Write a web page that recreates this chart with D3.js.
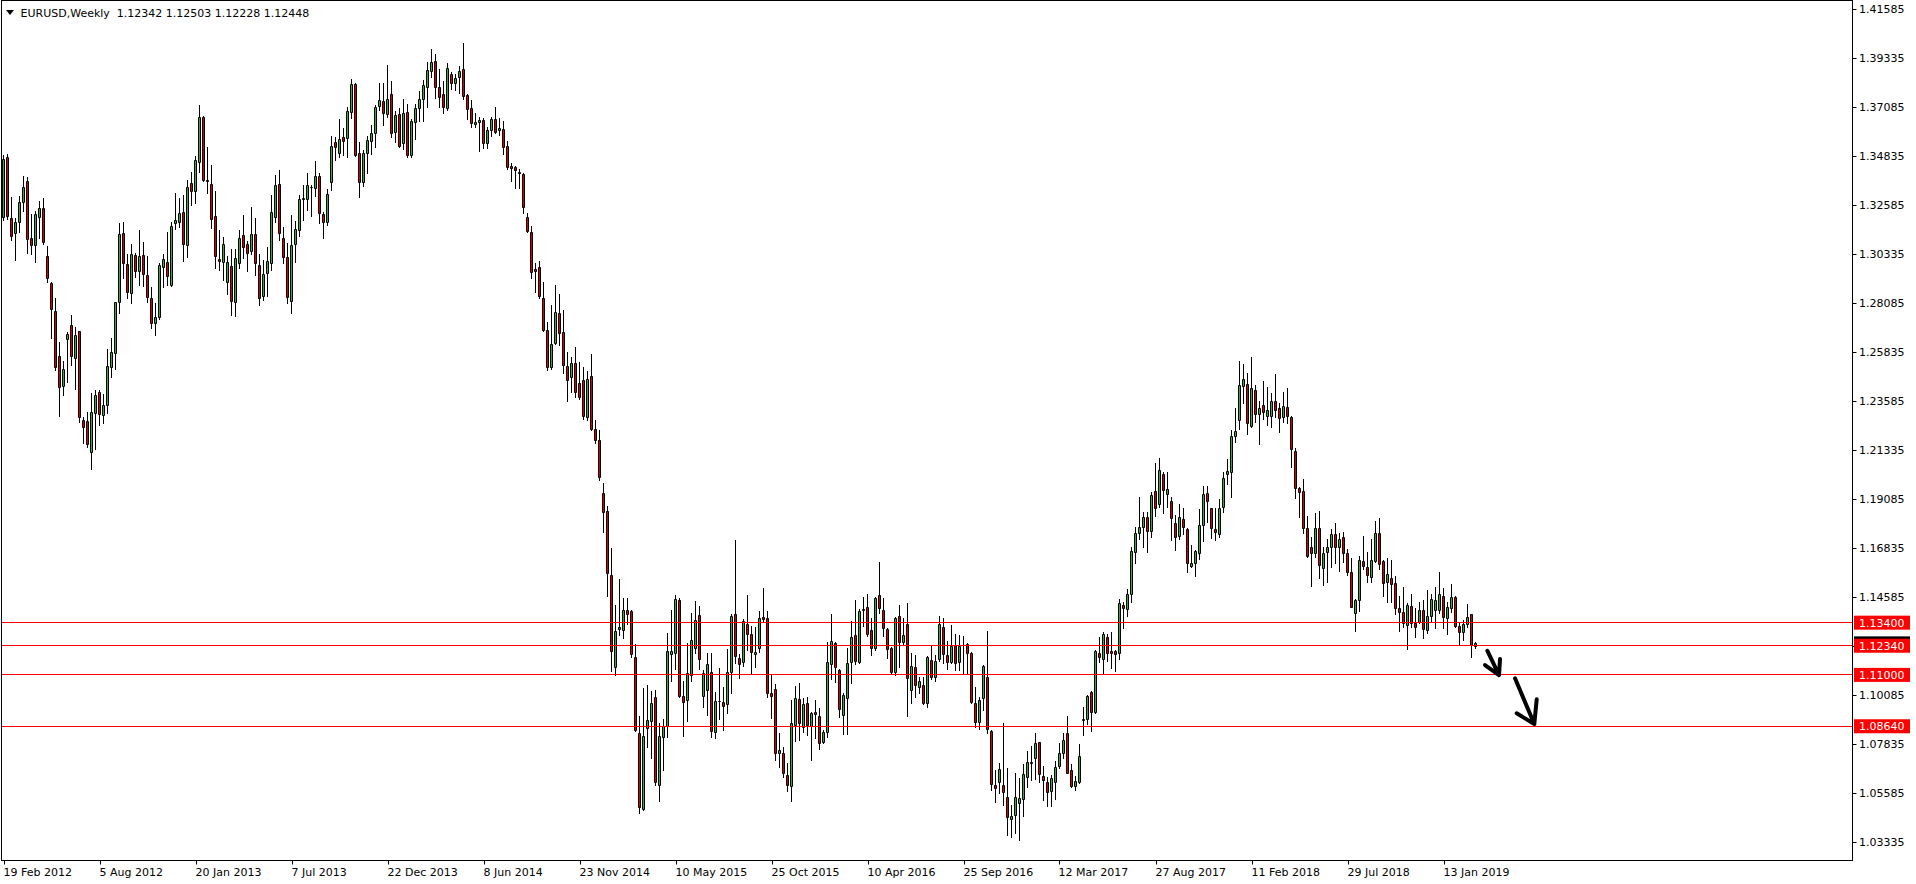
<!DOCTYPE html>
<html><head><meta charset="utf-8">
<script src="https://cdn.jsdelivr.net/npm/d3@7"></script>
<style>
html,body{margin:0;padding:0;background:#fff;overflow:hidden}
svg{display:block}
text{font-family:"DejaVu Sans",sans-serif;font-size:11px}
</style>
</head><body>
<svg id="chart" width="1916" height="884"></svg>
<script>
const symbol = "EURUSD";
const timeframe = "Weekly";
const firstWeek = "19 Feb 2012";

const opens = [
1.3205,1.3478,1.3198,1.3129,1.3179,1.3271,1.3369,1.3106,1.3074,1.3203,1.3245,1.3025,
1.2902,1.2774,1.2565,1.2428,1.2642,1.2708,1.2555,1.2680,1.2271,1.2266,1.2126,1.2305,
1.2398,1.2294,1.2340,1.2513,1.2580,1.2812,1.3129,1.2988,1.2853,1.3029,1.2957,1.3029,
1.2937,1.2830,1.2718,1.2743,1.2976,1.2996,1.2892,1.3178,1.3183,1.3225,1.3075,1.3359,
1.3325,1.3458,1.3665,1.3374,1.3354,1.3209,1.3009,1.2999,1.2907,1.2980,1.2812,1.2994,
1.3121,1.3080,1.3049,1.3126,1.2983,1.2840,1.2945,1.2991,1.3203,1.3354,1.3106,1.3019,
1.2819,1.3080,1.3144,1.3285,1.3285,1.3343,1.3339,1.3392,1.3216,1.3180,1.3366,1.3547,
1.3500,1.3570,1.3565,1.3688,1.3815,1.3497,1.3366,1.3497,1.3555,1.3588,1.3714,1.3737,
1.3676,1.3769,1.3596,1.3677,1.3543,1.3685,1.3489,1.3642,1.3706,1.3745,1.3803,1.3876,
1.3919,1.3800,1.3768,1.3703,1.3861,1.3821,1.3846,1.3882,1.3763,1.3703,1.3630,1.3639,
1.3650,1.3546,1.3604,1.3654,1.3603,1.3610,1.3531,1.3440,1.3434,1.3410,1.3401,1.3206,
1.3136,1.2963,1.2973,1.2832,1.2687,1.2513,1.2626,1.2763,1.2676,1.2518,1.2468,1.2533,
1.2442,1.2453,1.2286,1.2472,1.2229,1.2181,1.1938,1.1851,1.1558,1.1135,1.1310,1.1307,
1.1396,1.1393,1.1183,1.0831,1.0484,1.0857,1.0890,1.0998,1.0592,1.0814,1.0864,1.1198,
1.1200,1.1443,1.1005,1.0983,1.1101,1.1222,1.1375,1.1002,1.1030,1.1112,1.0836,1.0978,
1.0974,1.0965,1.1115,1.1378,1.1176,1.1161,1.1332,1.1286,1.1194,1.1222,1.1364,1.1360,
1.1015,1.1033,1.0739,1.0739,1.0640,1.0591,1.0870,1.0987,1.0859,1.0969,1.0866,1.0928,
1.0911,1.0793,1.0836,1.1148,1.1245,1.1122,1.0918,1.0992,1.1157,1.1283,1.1161,1.1398,
1.1410,1.1306,1.1222,1.1467,1.1398,1.1311,1.1222,1.1115,1.1370,1.1249,1.1334,1.1029,
1.1135,1.1046,1.1054,1.0969,1.1168,1.1089,1.1171,1.1321,1.1191,1.1157,1.1236,1.1157,
1.1236,1.1242,1.1202,1.0969,1.0882,1.0992,1.1092,1.0842,1.0594,1.0606,1.0594,1.0537,
1.0436,1.0456,1.0513,1.0530,1.0629,1.0693,1.0716,1.0793,1.0635,1.0609,1.0568,1.0606,
1.0682,1.0739,1.0831,1.0663,1.0591,1.0609,1.0893,1.0897,1.1023,1.0931,1.1199,1.1172,
1.1275,1.1210,1.1210,1.1199,1.1421,1.1401,1.1470,1.1663,1.1753,1.1778,1.1824,1.1763,
1.1946,1.1885,1.2021,1.1931,1.1900,1.1796,1.1738,1.1815,1.1769,1.1602,1.1615,1.1658,
1.1791,1.1934,1.1865,1.1769,1.1746,1.1870,1.2021,1.2031,1.2199,1.2271,1.2428,1.2437,
1.2243,1.2409,1.2299,1.2340,1.2291,1.2291,1.2358,1.2325,1.2286,1.2329,1.2283,1.2129,
1.1960,1.1945,1.1773,1.1686,1.1661,1.1776,1.1589,1.1666,1.1689,1.1746,1.1686,1.1732,
1.1658,1.1571,1.1383,1.1444,1.1623,1.1597,1.1551,1.1625,1.1750,1.1623,1.1525,1.1543,
1.1520,1.1406,1.1390,1.1329,1.1416,1.1340,1.1344,1.1398,1.1306,1.1370,1.1398,1.1398,
1.1462,1.1363,1.1406,1.1456,1.1324,1.1295,1.1333,1.1379,1.12342];

const highs = [
1.3489,1.3494,1.3294,1.3201,1.3300,1.3392,1.3386,1.3218,1.3233,1.3277,1.3293,1.3071,
1.2905,1.2831,1.2628,1.2544,1.2677,1.2754,1.2697,1.2680,1.2287,1.2309,1.2394,1.2409,
1.2409,1.2391,1.2597,1.2646,1.2812,1.3175,1.3179,1.3034,1.3080,1.3037,1.3144,1.3088,
1.3026,1.2881,1.2810,1.2994,1.3032,1.3134,1.3183,1.3316,1.3293,1.3305,1.3374,1.3412,
1.3484,1.3719,1.3668,1.3527,1.3442,1.3323,1.3144,1.3114,1.3025,1.3055,1.3057,1.3143,
1.3213,1.3095,1.3251,1.3198,1.3034,1.3006,1.3064,1.3305,1.3397,1.3420,1.3160,1.3083,
1.3213,1.3187,1.3305,1.3351,1.3405,1.3351,1.3461,1.3404,1.3228,1.3331,1.3576,1.3570,
1.3653,1.3612,1.3708,1.3837,1.3821,1.3550,1.3512,1.3576,1.3627,1.3719,1.3821,1.3821,
1.3903,1.3829,1.3693,1.3703,1.3745,1.3723,1.3653,1.3723,1.3783,1.3834,1.3918,1.3976,
1.3953,1.3883,1.3830,1.3910,1.3872,1.3861,1.3898,1.4002,1.3769,1.3742,1.3680,1.3662,
1.3657,1.3619,1.3665,1.3711,1.3657,1.3646,1.3555,1.3451,1.3440,1.3423,1.3408,1.3223,
1.3164,1.2995,1.3001,1.2904,1.2720,1.2800,1.2893,1.2850,1.2778,1.2583,1.2561,1.2605,
1.2537,1.2513,1.2496,1.2576,1.2272,1.2225,1.1981,1.1877,1.1682,1.1422,1.1541,1.1454,
1.1454,1.1400,1.1243,1.0911,1.1042,1.1053,1.1026,1.1031,1.0879,1.0896,1.1291,1.1396,
1.1469,1.1454,1.1074,1.1248,1.1383,1.1441,1.1416,1.1122,1.1199,1.1199,1.1020,1.1130,
1.1046,1.1219,1.1380,1.1720,1.1196,1.1355,1.1467,1.1324,1.1321,1.1395,1.1498,1.1395,
1.1099,1.1058,1.0834,1.0770,1.0693,1.0984,1.1049,1.1061,1.0992,1.1000,1.0931,1.0985,
1.0948,1.0847,1.1253,1.1380,1.1253,1.1125,1.1015,1.1222,1.1349,1.1444,1.1401,1.1459,
1.1472,1.1360,1.1459,1.1620,1.1452,1.1314,1.1230,1.1364,1.1421,1.1360,1.1432,1.1199,
1.1190,1.1092,1.1092,1.1187,1.1237,1.1191,1.1370,1.1360,1.1255,1.1329,1.1288,1.1283,
1.1278,1.1245,1.1207,1.1046,1.0999,1.1146,1.1301,1.0847,1.0663,1.0693,1.0877,1.0670,
1.0502,1.0650,1.0625,1.0690,1.0751,1.0774,1.0831,1.0793,1.0681,1.0629,1.0640,1.0706,
1.0785,1.0831,1.0911,1.0690,1.0635,1.0782,1.0954,1.1006,1.1026,1.1215,1.1273,1.1298,
1.1286,1.1298,1.1215,1.1447,1.1436,1.1493,1.1689,1.1778,1.1919,1.1850,1.1850,1.1942,
1.2075,1.2095,1.2034,1.2034,1.1919,1.1834,1.1885,1.1865,1.1773,1.1697,1.1674,1.1861,
1.1969,1.1969,1.1868,1.1865,1.1906,1.2034,1.2092,1.2225,1.2325,1.2544,1.2528,1.2486,
1.2562,1.2432,1.2358,1.2450,1.2424,1.2397,1.2482,1.2348,1.2401,1.2417,1.2289,1.2141,
1.1965,1.1998,1.1831,1.1732,1.1842,1.1854,1.1689,1.1723,1.1769,1.1796,1.1753,1.1755,
1.1677,1.1635,1.1447,1.1646,1.1738,1.1663,1.1723,1.1807,1.1819,1.1628,1.1635,1.1628,
1.1554,1.1462,1.1505,1.1429,1.1474,1.1406,1.1436,1.1444,1.1490,1.1474,1.1505,1.1574,
1.1497,1.1436,1.1517,1.1462,1.1344,1.1352,1.1425,1.1382,1.12503];

const lows = [
1.3190,1.3193,1.3098,1.3006,1.3137,1.3233,1.3040,1.3034,1.2999,1.3109,1.3080,1.2907,
1.2647,1.2501,1.2289,1.2386,1.2447,1.2524,1.2412,1.2264,1.2164,1.2149,1.2045,1.2136,
1.2248,1.2258,1.2302,1.2470,1.2504,1.2761,1.2922,1.2830,1.2807,1.2930,1.2892,1.2887,
1.2812,1.2692,1.2662,1.2734,1.2884,1.2892,1.2887,1.3149,1.3160,1.3000,1.3022,1.3259,
1.3270,1.3412,1.3371,1.3313,1.3152,1.2971,1.2960,1.2914,1.2850,1.2754,1.2749,1.2971,
1.3014,1.2957,1.3034,1.2938,1.2800,1.2823,1.2841,1.2960,1.3183,1.3098,1.2991,1.2810,
1.2761,1.2999,1.3117,1.3190,1.3236,1.3209,1.3302,1.3178,1.3109,1.3167,1.3328,1.3466,
1.3478,1.3489,1.3478,1.3657,1.3484,1.3297,1.3348,1.3405,1.3493,1.3527,1.3696,1.3627,
1.3662,1.3570,1.3550,1.3524,1.3515,1.3481,1.3481,1.3563,1.3647,1.3647,1.3711,1.3849,
1.3750,1.3711,1.3680,1.3696,1.3791,1.3788,1.3775,1.3745,1.3653,1.3619,1.3619,1.3509,
1.3520,1.3520,1.3576,1.3589,1.3581,1.3495,1.3423,1.3371,1.3338,1.3338,1.3223,1.3136,
1.2926,1.2861,1.2833,1.2681,1.2502,1.2507,1.2620,1.2615,1.2485,1.2359,1.2398,1.2377,
1.2366,1.2275,1.2272,1.2225,1.2166,1.1997,1.1758,1.1461,1.1118,1.1100,1.1285,1.1270,
1.1335,1.1183,1.0840,1.0466,1.0477,1.0770,1.0716,1.0592,1.0521,1.0662,1.0814,1.1070,
1.1129,1.0998,1.0818,1.0890,1.1074,1.1202,1.1125,1.0954,1.0915,1.0816,1.0808,1.0896,
1.0847,1.0926,1.1015,1.1156,1.1087,1.1141,1.1214,1.1104,1.1138,1.1207,1.1345,1.0998,
1.0900,1.0709,1.0675,1.0632,1.0568,1.0522,1.0798,1.0800,1.0839,1.0823,1.0709,1.0809,
1.0761,1.0786,1.0813,1.1083,1.1068,1.0908,1.0827,1.0828,1.1061,1.1150,1.1156,1.1324,
1.1278,1.1191,1.1214,1.1383,1.1278,1.1176,1.1110,1.1099,1.1135,1.1242,1.0911,1.0972,
1.1000,1.1015,1.0966,1.0951,1.1080,1.1072,1.1165,1.1156,1.1125,1.1153,1.1122,1.1122,
1.1104,1.1104,1.0969,1.0862,1.0850,1.0939,1.0831,1.0571,1.0517,1.0556,1.0502,1.0364,
1.0353,1.0375,1.0341,1.0451,1.0583,1.0617,1.0620,1.0609,1.0525,1.0497,1.0497,1.0529,
1.0670,1.0719,1.0648,1.0586,1.0571,1.0604,1.0824,1.0873,1.0842,1.0923,1.1161,1.1110,
1.1165,1.1130,1.1119,1.1173,1.1314,1.1370,1.1436,1.1616,1.1723,1.1689,1.1666,1.1735,
1.1830,1.1873,1.1842,1.1873,1.1720,1.1674,1.1723,1.1746,1.1574,1.1594,1.1556,1.1631,
1.1715,1.1804,1.1730,1.1720,1.1735,1.1850,1.1977,1.1919,1.2169,1.2229,1.2351,1.2207,
1.2237,1.2263,1.2159,1.2274,1.2248,1.2240,1.2286,1.2217,1.2263,1.2256,1.2056,1.1914,
1.1824,1.1753,1.1643,1.1508,1.1643,1.1544,1.1513,1.1528,1.1597,1.1615,1.1579,1.1620,
1.1559,1.1410,1.1303,1.1395,1.1585,1.1528,1.1528,1.1620,1.1585,1.1462,1.1433,1.1436,
1.1380,1.1303,1.1321,1.1217,1.1318,1.1272,1.1337,1.1271,1.1294,1.1349,1.1314,1.1386,
1.1314,1.1289,1.1390,1.1318,1.1237,1.1260,1.1318,1.1180,1.12228];

const closes = [
1.3471,1.3209,1.3118,1.3179,1.3271,1.3340,1.3101,1.3075,1.3218,1.3245,1.3091,1.2925,
1.2780,1.2516,1.2421,1.2505,1.2666,1.2567,1.2662,1.2287,1.2241,1.2159,1.2306,1.2386,
1.2297,1.2340,1.2519,1.2582,1.2812,1.3126,1.2991,1.2858,1.3034,1.2957,1.3026,1.2940,
1.2838,1.2715,1.2743,1.2983,1.3011,1.2934,1.3163,1.3190,1.3221,1.3080,1.3340,1.3325,
1.3466,1.3662,1.3374,1.3368,1.3193,1.3026,1.3003,1.3080,1.2996,1.2819,1.3014,1.3106,
1.3064,1.3037,1.3126,1.2991,1.2830,1.2940,1.3002,1.3225,1.3351,1.3129,1.3022,1.2835,
1.3075,1.3147,1.3287,1.3290,1.3350,1.3340,1.3392,1.3221,1.3180,1.3308,1.3530,1.3527,
1.3563,1.3555,1.3691,1.3815,1.3489,1.3363,1.3497,1.3558,1.3588,1.3711,1.3742,1.3683,
1.3746,1.3588,1.3673,1.3530,1.3680,1.3489,1.3647,1.3703,1.3745,1.3811,1.3880,1.3915,
1.3803,1.3757,1.3711,1.3887,1.3818,1.3841,1.3876,1.3761,1.3700,1.3634,1.3642,1.3650,
1.3546,1.3604,1.3654,1.3596,1.3614,1.3527,1.3436,1.3427,1.3419,1.3407,1.3249,1.3141,
1.2952,1.2956,1.2839,1.2685,1.2513,1.2620,1.2767,1.2670,1.2524,1.2457,1.2533,1.2398,
1.2377,1.2290,1.2459,1.2229,1.2181,1.2008,1.1849,1.1569,1.1209,1.1302,1.1318,1.1400,
1.1378,1.1194,1.0846,1.0492,1.0820,1.0894,1.0970,1.0607,1.0820,1.0864,1.1211,1.1211,
1.1450,1.1005,1.0977,1.1107,1.1259,1.1352,1.1171,1.1107,1.1150,1.0844,1.0980,1.0982,
1.0958,1.1112,1.1370,1.1188,1.1148,1.1349,1.1286,1.1207,1.1203,1.1360,1.1355,1.1015,
1.1004,1.0742,1.0755,1.0647,1.0594,1.0877,1.0992,1.0877,1.0966,1.0870,1.0923,1.0919,
1.0788,1.0836,1.1158,1.1257,1.1134,1.0941,1.1007,1.1153,1.1272,1.1165,1.1393,1.1401,
1.1286,1.1225,1.1452,1.1406,1.1314,1.1217,1.1115,1.1360,1.1252,1.1283,1.1088,1.1141,
1.1052,1.1073,1.0973,1.1181,1.1089,1.1164,1.1334,1.1194,1.1160,1.1232,1.1156,1.1234,
1.1239,1.1199,1.0974,1.0882,1.0984,1.1141,1.0850,1.0597,1.0582,1.0666,1.0560,1.0448,
1.0451,1.0537,1.0533,1.0643,1.0701,1.0700,1.0785,1.0643,1.0617,1.0563,1.0624,1.0675,
1.0739,1.0800,1.0651,1.0591,1.0612,1.0727,1.0897,1.1003,1.0931,1.1210,1.1184,1.1286,
1.1199,1.1199,1.1194,1.1429,1.1406,1.1472,1.1669,1.1750,1.1778,1.1824,1.1763,1.1926,
1.1865,1.2041,1.1949,1.1952,1.1819,1.1735,1.1824,1.1781,1.1612,1.1612,1.1669,1.1791,
1.1929,1.1900,1.1776,1.1755,1.1865,1.2003,1.2037,1.2199,1.2222,1.2432,1.2458,1.2256,
1.2417,1.2297,1.2325,1.2309,1.2317,1.2358,1.2317,1.2282,1.2335,1.2291,1.2136,1.1960,
1.1942,1.1773,1.1648,1.1661,1.1773,1.1605,1.1658,1.1686,1.1746,1.1689,1.1723,1.1658,
1.1571,1.1413,1.1444,1.1628,1.1602,1.1559,1.1628,1.1750,1.1608,1.1520,1.1563,1.1516,
1.1406,1.1387,1.1337,1.1421,1.1337,1.1321,1.1398,1.1309,1.1370,1.1447,1.1444,1.1470,
1.1364,1.1413,1.1456,1.1324,1.1295,1.1333,1.1364,1.1237,1.12448];

const priceTicks = [1.41585,1.39335,1.37085,1.34835,1.32585,1.30335,1.28085,1.25835,1.23585,
  1.21335,1.19085,1.16835,1.14585,1.12335,1.10085,1.07835,1.05585,1.03335];
const dateTicks = ["19 Feb 2012","5 Aug 2012","20 Jan 2013","7 Jul 2013","22 Dec 2013","8 Jun 2014",
  "23 Nov 2014","10 May 2015","25 Oct 2015","10 Apr 2016","25 Sep 2016","12 Mar 2017",
  "27 Aug 2017","11 Feb 2018","29 Jul 2018","13 Jan 2019"];
const levels = [1.13400,1.12340,1.11000,1.08640];
// hand-drawn arrows: [week index, price] points: tail, tip, barb1, barb2
const arrowTails = [[370.95,1.12110],[377.88,1.10842]];
const arrowTips  = [[373.88,1.10993],[382.70,1.08742]];
const arrowBarbA = [[370.38,1.11453],[378.30,1.09234]];
const arrowBarbB = [[374.13,1.11729],[383.30,1.09877]];

const bullColor = "#36ac36", bearColor = "#d40000", levelColor = "#ff0000";

const svg = d3.select("#chart");
const N = closes.length;
const plotRight = 1852.5, plotBottom = 860.5;

const x = d3.scaleLinear().domain([0, N - 1]).range([3.5, 3.5 + 4 * (N - 1)]);
const y = d3.scaleLinear().domain([priceTicks[priceTicks.length - 1], priceTicks[0]]).range([841.7, 9.3]);
const ry = v => Math.round(y(v));

const plot = svg.append("g");
// wicks
plot.selectAll("line.wick").data(d3.range(N)).join("line")
  .attr("class", "wick")
  .attr("x1", i => x(i)).attr("x2", i => x(i))
  .attr("y1", i => ry(highs[i])).attr("y2", i => ry(lows[i]) + 1)
  .attr("stroke", "#000").attr("stroke-width", 1);
// bodies
plot.selectAll("path.body").data(d3.range(N)).join("path")
  .attr("class", "body")
  .attr("d", i => {
    const t = ry(Math.max(opens[i], closes[i])) + 0.5;
    const b = ry(Math.min(opens[i], closes[i])) + 0.5;
    const l = x(i) - 1, r = x(i) + 1;
    return `M${l},${t}H${r}V${b}H${l}Z`;
  })
  .attr("fill", i => closes[i] >= opens[i] ? bullColor : bearColor)
  .attr("stroke", "#000").attr("stroke-width", 1);

// horizontal levels
svg.selectAll("line.level").data(levels).join("line")
  .attr("x1", 2).attr("x2", plotRight)
  .attr("y1", d => Math.floor(y(d)) + 0.5).attr("y2", d => Math.floor(y(d)) + 0.5)
  .attr("stroke", levelColor).attr("stroke-width", 1);

// arrows
const arrowG = svg.append("g").attr("fill", "none").attr("stroke", "#000")
  .attr("stroke-width", 4).attr("stroke-linecap", "round").attr("stroke-linejoin", "round");
arrowTails.forEach((t, k) => {
  const P = p => [x(p[0]), y(p[1])];
  const a = P(t), b = P(arrowTips[k]), c = P(arrowBarbA[k]), d = P(arrowBarbB[k]);
  arrowG.append("path").attr("d", `M${a}L${b}M${c}L${b}L${d}`);
});

// frame
const frame = svg.append("g").attr("stroke", "#000").attr("stroke-width", 1);
frame.append("line").attr("x1", 1.5).attr("x2", 1.5).attr("y1", 0).attr("y2", plotBottom);
frame.append("line").attr("x1", 1).attr("x2", plotRight).attr("y1", 0.5).attr("y2", 0.5);
frame.append("line").attr("x1", plotRight).attr("x2", plotRight).attr("y1", 0).attr("y2", plotBottom + 0.5);
frame.append("line").attr("x1", 1).attr("x2", plotRight).attr("y1", plotBottom).attr("y2", plotBottom);

// price axis
const fmt5 = d3.format(".5f");
const pa = svg.append("g");
priceTicks.forEach(v => {
  const yy = ry(v) + 0.5;
  pa.append("line").attr("x1", plotRight).attr("x2", plotRight + 4).attr("y1", yy).attr("y2", yy)
    .attr("stroke", "#000");
  pa.append("text").attr("x", 1859).attr("y", y(v) + 4).attr("fill", "#000").text(fmt5(v));
});

// current price (black) label then level labels (red)
function priceBox(v, fill) {
  const yc = y(v);
  pa.append("rect").attr("x", 1854).attr("y", yc - 7).attr("width", 56).attr("height", 14).attr("fill", fill);
  pa.append("text").attr("x", 1859).attr("y", yc + 4).attr("fill", "#fff").text(fmt5(v));
}
priceBox(closes[N - 1], "#000");
levels.forEach(v => priceBox(v, levelColor));

// date axis
const parse = d3.timeParse("%d %b %Y");
const t0 = parse(firstWeek);
const da = svg.append("g");
dateTicks.forEach(s => {
  const idx = Math.round(d3.timeDay.count(t0, parse(s)) / 7);
  const xx = Math.round(x(idx)) + 0.5;
  da.append("line").attr("x1", xx).attr("x2", xx).attr("y1", plotBottom).attr("y2", plotBottom + 4)
    .attr("stroke", "#000");
  da.append("text").attr("x", xx - 1).attr("y", 876).attr("fill", "#000").text(s);
});

// title
svg.append("path").attr("d", "M6,10L14,10L10,15Z").attr("fill", "#000");
svg.append("text").attr("x", 20.5).attr("y", 17).attr("fill", "#000")
  .style("white-space", "pre")
  .text(`${symbol},${timeframe}  ${fmt5(opens[N-1])} ${fmt5(highs[N-1])} ${fmt5(lows[N-1])} ${fmt5(closes[N-1])}`);
</script>
</body></html>
